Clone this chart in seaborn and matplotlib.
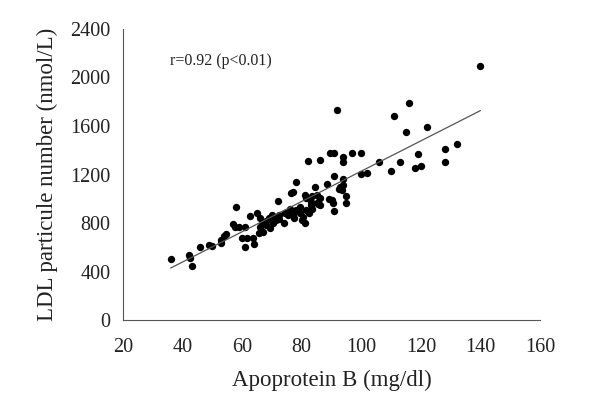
import matplotlib
matplotlib.use('Agg')
import matplotlib.pyplot as plt
import seaborn as sns
import pandas as pd

# Values
apob = [36, 42, 42.5, 43, 46, 49, 50, 53, 53, 54, 54.5, 57, 57.5, 58, 59, 60, 61, 61,
        61.5, 62.5, 63.5, 64, 65, 65.5, 66, 66, 66.5, 67, 67, 68, 68, 69, 69.5, 70,
        70.5, 71.5, 72, 72.5, 72.5, 74, 74.5, 75.5, 76, 76.5, 77, 77, 77.5, 78, 78,
        79.5, 79.5, 80, 80.5, 81, 81, 81.5, 81.5, 82, 82.5, 83, 83, 83.5, 83.5, 84.5,
        85, 85.5, 85.5, 86, 86, 86, 88.5, 89, 89.5, 90, 90.5, 91, 91, 91, 92, 92.5,
        93, 93.5, 94, 94, 94, 94, 95, 95, 97, 100, 100, 102, 106, 110, 111, 113, 115,
        116, 118, 119, 120, 122, 128, 128, 132, 140]
ldl_p = [500, 540, 510, 450, 600, 620, 610, 635, 660, 690, 710, 790, 770, 935, 770,
         675, 765, 600, 675, 860, 675, 630, 880, 715, 770, 840, 790, 810, 730, 785,
         820, 840, 760, 865, 800, 825, 985, 865, 830, 800, 880, 870, 920, 1045, 1060,
         865, 840, 1135, 905, 880, 935, 825, 850, 1030, 800, 1005, 910, 1310, 880,
         975, 950, 920, 1020, 1100, 1030, 975, 960, 1320, 1005, 950, 1125, 1000, 1375,
         990, 965, 1380, 1190, 900, 1730, 1080, 1100, 1070, 1345, 1300, 1160, 1110,
         1020, 965, 1380, 1380, 1205, 1210, 1305, 1230, 1685, 1305, 1550, 1785, 1255,
         1370, 1270, 1590, 1410, 1305, 1455, 2090]

x_ticks = [20, 40, 60, 80, 100, 120, 140, 160]
y_ticks = [0, 400, 800, 1200, 1600, 2000, 2400]
annotation = 'r=0.92 (p<0.01)'

df = pd.DataFrame({'apob': apob, 'ldl': ldl_p})

sns.set_style('white')
plt.rcParams['font.family'] = ['Liberation Serif', 'DejaVu Serif']

fig = plt.figure(figsize=(6, 4.18), dpi=100)
ax = fig.add_axes([0.205, 0.234, 0.695, 0.697])

sns.regplot(data=df, x='apob', y='ldl', ax=ax, ci=None,
            scatter_kws={'s': 28, 'color': 'black', 'linewidths': 0, 'alpha': 1},
            line_kws={'color': '#555555', 'lw': 0.9})

ax.set_xlim(20, 160)
ax.set_ylim(0, 2400)
ax.set_xticks(x_ticks)
ax.set_yticks(y_ticks)
ax.tick_params(axis='both', direction='out', length=4, width=0.8,
               color='#555555', labelsize=14.5, labelcolor='#222222')
ax.tick_params(axis='x', pad=9)
ax.tick_params(axis='y', pad=5)
for side in ['top', 'right']:
    ax.spines[side].set_visible(False)
for side in ['left', 'bottom']:
    ax.spines[side].set_color('#555555')
    ax.spines[side].set_linewidth(0.8)

ax.set_xlabel('Apoprotein B (mg/dl)', fontsize=16.5, labelpad=9, color='#222222')
ax.set_ylabel('LDL particule number (nmol/L)', fontsize=16.5, labelpad=9, color='#222222')
ax.text(0.113, 0.89, annotation, transform=ax.transAxes, fontsize=11.5,
        va='center', color='#222222')

fig.savefig('out.png', dpi=100)
